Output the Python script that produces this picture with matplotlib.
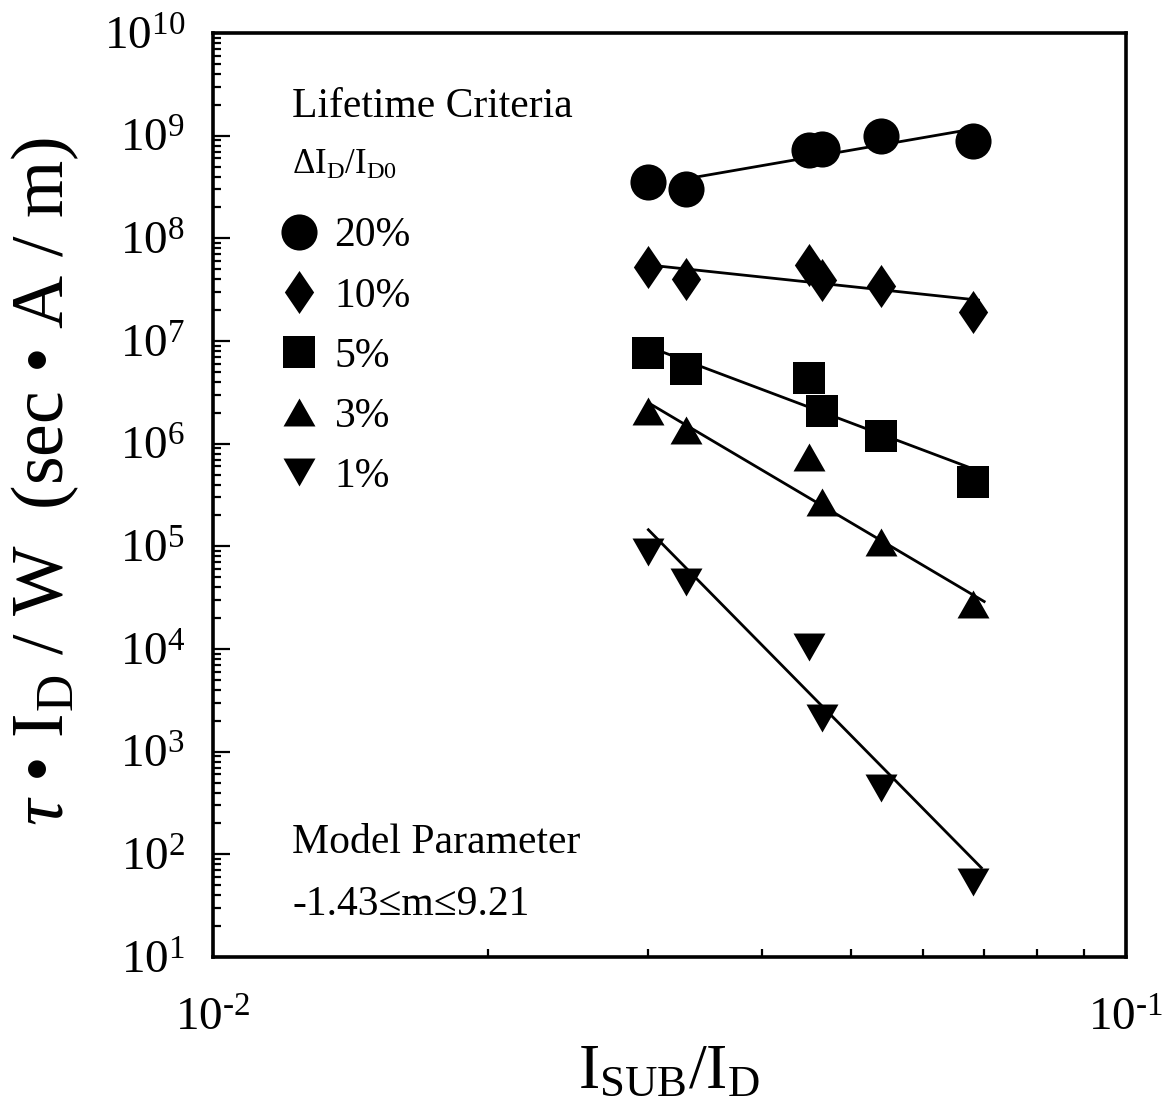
import numpy as np
import matplotlib
matplotlib.use('Agg')
from matplotlib import pyplot as plt
from matplotlib.ticker import LogLocator, NullFormatter, FuncFormatter

plt.rcParams['font.family'] = ['Liberation Serif', 'DejaVu Serif']
plt.rcParams['mathtext.fontset'] = 'custom'
plt.rcParams['mathtext.rm'] = 'Liberation Serif'
plt.rcParams['mathtext.it'] = 'Liberation Serif:italic'
plt.rcParams['mathtext.bf'] = 'Liberation Serif:bold'
plt.rcParams['mathtext.default'] = 'regular'

# measured points, x = Isub/Id, y = tau*Id/W
x_pts = [0.030, 0.033, 0.045, 0.0465, 0.054, 0.068]
y_20 = [3.5e8, 3.0e8, 7.3e8, 7.4e8, 9.9e8, 8.9e8]
y_10 = [5.3e7, 4.0e7, 5.5e7, 3.9e7, 3.4e7, 1.9e7]
y_5 = [7.7e6, 5.3e6, 4.4e6, 2.1e6, 1.19e6, 4.2e5]
y_3 = [2.08e6, 1.36e6, 7.4e5, 2.7e5, 1.1e5, 2.75e4]
y_1 = [8.8e4, 4.5e4, 1.05e4, 2140, 446, 54]

# fitted lines (end points)
fit_20_x, fit_20_y = [0.033, 0.068], [3.8e8, 1.16e9]
fit_10_x, fit_10_y = [0.030, 0.069], [5.5e7, 2.5e7]
fit_5_x, fit_5_y = [0.030, 0.068], [8.8e6, 5.7e5]
fit_3_x, fit_3_y = [0.030, 0.070], [2.5e6, 2.9e4]
fit_1_x, fit_1_y = [0.030, 0.0695], [1.45e5, 74]

labels = ['20%', '10%', '5%', '3%', '1%']

diamond = [(0, 1), (0.68, 0), (0, -1), (-0.68, 0), (0, 1)]
tri_up = [(-1, -0.875), (1, -0.875), (0, 0.875), (-1, -0.875)]
tri_dn = [(-1, 0.875), (1, 0.875), (0, -0.875), (-1, 0.875)]

series = [
    (y_20, fit_20_x, fit_20_y, 'o', 26),
    (y_10, fit_10_x, fit_10_y, diamond, 31),
    (y_5, fit_5_x, fit_5_y, 's', 23),
    (y_3, fit_3_x, fit_3_y, tri_up, 23),
    (y_1, fit_1_x, fit_1_y, tri_dn, 23),
]


def pow10(v, pos):
    e = int(round(np.log10(v)))
    if e < 0:
        return '$10^{\u2010%d}$' % abs(e)
    return '$10^{%d}$' % e


fig = plt.figure(figsize=(11.7, 11.18), dpi=100)
ax = fig.add_axes([0.182, 0.144, 0.780, 0.8265])

for i, (ys, fx, fy, mk, ms) in enumerate(series):
    ax.plot(fx, fy, color='black', lw=2.0)
    ax.plot(x_pts, ys, linestyle='none', marker=mk, markersize=ms,
            color='black', markeredgewidth=0, label=labels[i])

ax.set_xscale('log')
ax.set_yscale('log')
ax.set_xlim(1e-2, 1e-1)
ax.set_ylim(1e1, 1e10)

ax.yaxis.set_major_locator(LogLocator(base=10, numticks=20))
ax.yaxis.set_major_formatter(FuncFormatter(pow10))
ax.yaxis.set_minor_locator(LogLocator(base=10, subs=np.arange(2, 10), numticks=50))
ax.yaxis.set_minor_formatter(NullFormatter())
ax.xaxis.set_major_formatter(FuncFormatter(pow10))
ax.xaxis.set_minor_locator(LogLocator(base=10, subs=np.arange(2, 10), numticks=50))
ax.xaxis.set_minor_formatter(NullFormatter())

ax.tick_params(which='both', direction='in', top=False, right=False, width=1.6)
ax.tick_params(which='major', length=12, labelsize=34)
ax.tick_params(axis='y', which='major', pad=20)
ax.tick_params(axis='x', which='major', pad=30)
ax.tick_params(which='minor', length=6)
for sp in ax.spines.values():
    sp.set_linewidth(2.6)

ax.set_xlabel(r'I$_\mathregular{SUB}$/I$_\mathregular{D}$', fontsize=46, labelpad=2)
ax.set_ylabel(r'$\mathit{\tau}$ • I$_\mathregular{D}$ / W  (sec • A / m)', fontsize=53)
ax.yaxis.set_label_coords(-0.145, 0.515)

ax.text(0.087, 0.909, 'Lifetime Criteria', transform=ax.transAxes,
        fontsize=30, va='baseline', ha='left')
ax.text(0.087, 0.848, r'ΔI$_\mathregular{D}$/I$_\mathregular{D0}$', transform=ax.transAxes,
        fontsize=25, va='baseline', ha='left')
ax.text(0.087, 0.113, 'Model Parameter', transform=ax.transAxes,
        fontsize=30, va='baseline', ha='left')
ax.text(0.087, 0.046, '-1.43≤m≤9.21', transform=ax.transAxes,
        fontsize=30, va='baseline', ha='left')

ax.legend(loc='upper left', bbox_to_anchor=(0.072, 0.801), frameon=False,
          fontsize=30, handlelength=1.0, handletextpad=0.34, labelspacing=0.52,
          borderaxespad=0, borderpad=0)

fig.savefig('out.png', dpi=100)
